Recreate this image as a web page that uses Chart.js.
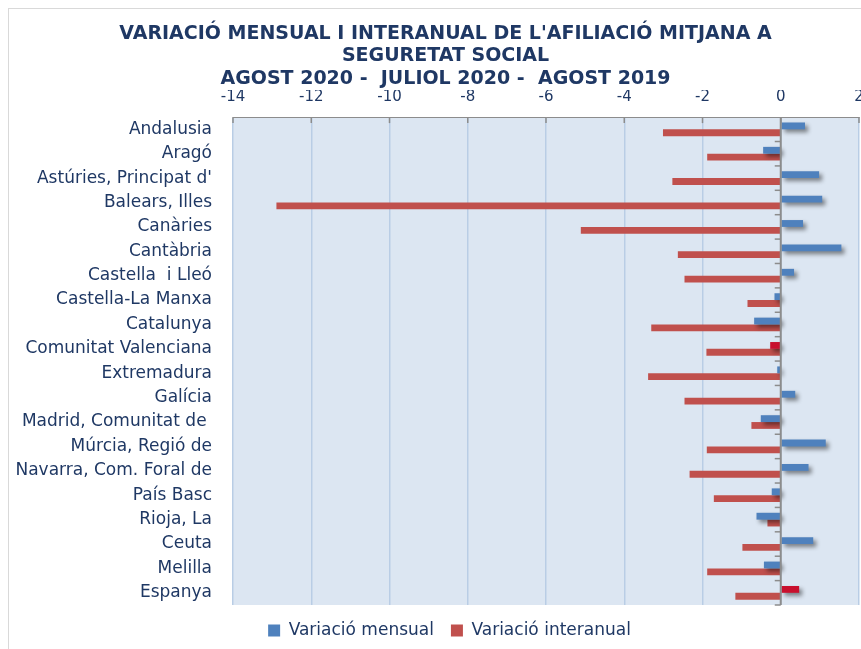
<!DOCTYPE html>
<html>
<head>
<meta charset="utf-8">
<script src="https://cdn.jsdelivr.net/npm/chart.js@4.4.1/dist/chart.umd.min.js"></script>
<style>
    body { margin: 0; background: #fff; }
    #frame { position: absolute; left: 8px; top: 8px; width: 900px; height: 700px; border: 1px solid #d9d9d9; }
    #wrap { position: absolute; left: 0; top: 0; width: 861px; height: 649px; }
</style>
</head>
<body>
<div id="frame"></div>
<div id="wrap"><canvas id="afiliacioChart" width="861" height="649"></canvas></div>
<script>
const categories = [
    'Andalusia', 'Aragó', "Astúries, Principat d'", 'Balears, Illes', 'Canàries',
    'Cantàbria', 'Castella  i Lleó', 'Castella-La Manxa', 'Catalunya', 'Comunitat Valenciana',
    'Extremadura', 'Galícia', 'Madrid, Comunitat de ', 'Múrcia, Regió de', 'Navarra, Com. Foral de',
    'País Basc', 'Rioja, La', 'Ceuta', 'Melilla', 'Espanya'
];
const variacioMensual = [0.62, -0.45, 0.98, 1.06, 0.57, 1.55, 0.34, -0.16, -0.68, -0.27,
    -0.09, 0.37, -0.51, 1.15, 0.71, -0.23, -0.62, 0.83, -0.43, 0.47];
const variacioInteranual = [-3.01, -1.88, -2.77, -12.89, -5.11, -2.63, -2.46, -0.85, -3.31, -1.90,
    -3.39, -2.46, -0.75, -1.89, -2.33, -1.71, -0.34, -0.98, -1.88, -1.16];
const highlighted = ['Comunitat Valenciana', 'Espanya'];

const navy = '#1F3864';
const blue = '#4F81BD';
const red = '#C0504D';
const crimson = '#C8102E';

// plot background, bar shadow, zero axis with its little tick marks
const plotDecor = {
    id: 'plotDecor',
    afterLayout(chart) {
        // title and legend in the original sit a bit right of the canvas centre
        chart.titleBlock.left = 32;
        chart.legend.left = 40;
    },
    beforeDraw(chart) {
        const { ctx, chartArea: a } = chart;
        ctx.save();
        ctx.fillStyle = '#DCE6F2';
        ctx.fillRect(a.left, a.top, a.right - a.left, a.bottom - a.top);
        ctx.restore();
    },
    beforeDatasetDraw(chart, args) {
        const ctx = chart.ctx;
        ctx.save();
        if (args.index === 0) {
            ctx.shadowColor = 'rgba(0, 0, 0, 0.45)';
            ctx.shadowBlur = 4;
            ctx.shadowOffsetX = 3;
            ctx.shadowOffsetY = 3;
        }
    },
    afterDatasetDraw(chart) {
        chart.ctx.restore();
    },
    afterDatasetsDraw(chart) {
        const { ctx, chartArea: a, scales } = chart;
        const x0 = scales.x.getPixelForValue(0);
        const y = scales.y;
        ctx.save();
        ctx.strokeStyle = '#8C8C8C';
        ctx.lineWidth = 2;
        ctx.beginPath();
        ctx.moveTo(x0, a.top);
        ctx.lineTo(x0, a.bottom);
        ctx.stroke();
        ctx.lineWidth = 1.5;
        const step = (a.bottom - a.top) / categories.length;
        for (let i = 1; i <= categories.length; i++) {
            const yy = y.getPixelForValue(i - 1) + step / 2;
            ctx.beginPath();
            ctx.moveTo(x0 - 6, yy);
            ctx.lineTo(x0, yy);
            ctx.stroke();
        }
        // tick marks hanging down from the top axis
        scales.x.ticks.forEach(t => {
            const xx = scales.x.getPixelForValue(t.value);
            ctx.beginPath();
            ctx.moveTo(xx, a.top);
            ctx.lineTo(xx, a.top + 6);
            ctx.stroke();
        });
        ctx.restore();
    }
};

const afiliacioChart = new Chart(document.getElementById('afiliacioChart').getContext('2d'), {
    type: 'bar',
    data: {
        labels: categories,
        datasets: [{
            label: 'Variació mensual',
            data: variacioMensual,
            backgroundColor: categories.map(c => highlighted.includes(c) ? crimson : blue),
            borderWidth: 0
        }, {
            label: 'Variació interanual',
            data: variacioInteranual,
            backgroundColor: red,
            borderWidth: 0
        }]
    },
    options: {
        indexAxis: 'y',
        responsive: false,
        animation: false,
        layout: {
            padding: { left: 0, right: 2, top: 0, bottom: 0 }
        },
        datasets: {
            bar: { categoryPercentage: 0.56, barPercentage: 1.0 }
        },
        scales: {
            x: {
                position: 'top',
                min: -14,
                max: 2,
                ticks: {
                    stepSize: 2,
                    color: navy,
                    padding: 11,
                    font: { family: 'DejaVu Sans', size: 15 }
                },
                grid: { color: '#B9CDE5', lineWidth: 1.5, drawTicks: false },
                border: { color: '#8C8C8C', width: 1 },
                afterFit(scale) {
                    scale.height = 27.2;
                    scale.paddingLeft = 0;
                    scale.paddingRight = 0;
                }
            },
            y: {
                grid: { display: false, drawTicks: false },
                border: { display: false },
                ticks: {
                    color: navy,
                    padding: 21,
                    font: { family: 'DejaVu Sans', size: 17 }
                },
                afterFit(scale) {
                    scale.width = 233;
                }
            }
        },
        plugins: {
            title: {
                display: true,
                text: ["VARIACIÓ MENSUAL I INTERANUAL DE L'AFILIACIÓ MITJANA A", 'SEGURETAT SOCIAL', 'AGOST 2020 -  JULIOL 2020 -  AGOST 2019'],
                color: navy,
                font: { family: 'DejaVu Sans', size: 19, weight: 'bold', lineHeight: 1.174 },
                padding: { top: 23, bottom: 0 }
            },
            legend: {
                position: 'bottom',
                labels: {
                    boxWidth: 12,
                    boxHeight: 12,
                    padding: 17,
                    color: navy,
                    font: { family: 'DejaVu Sans', size: 17 }
                }
            },
            tooltip: { enabled: false }
        }
    },
    plugins: [plotDecor]
});
</script>
</body>
</html>
